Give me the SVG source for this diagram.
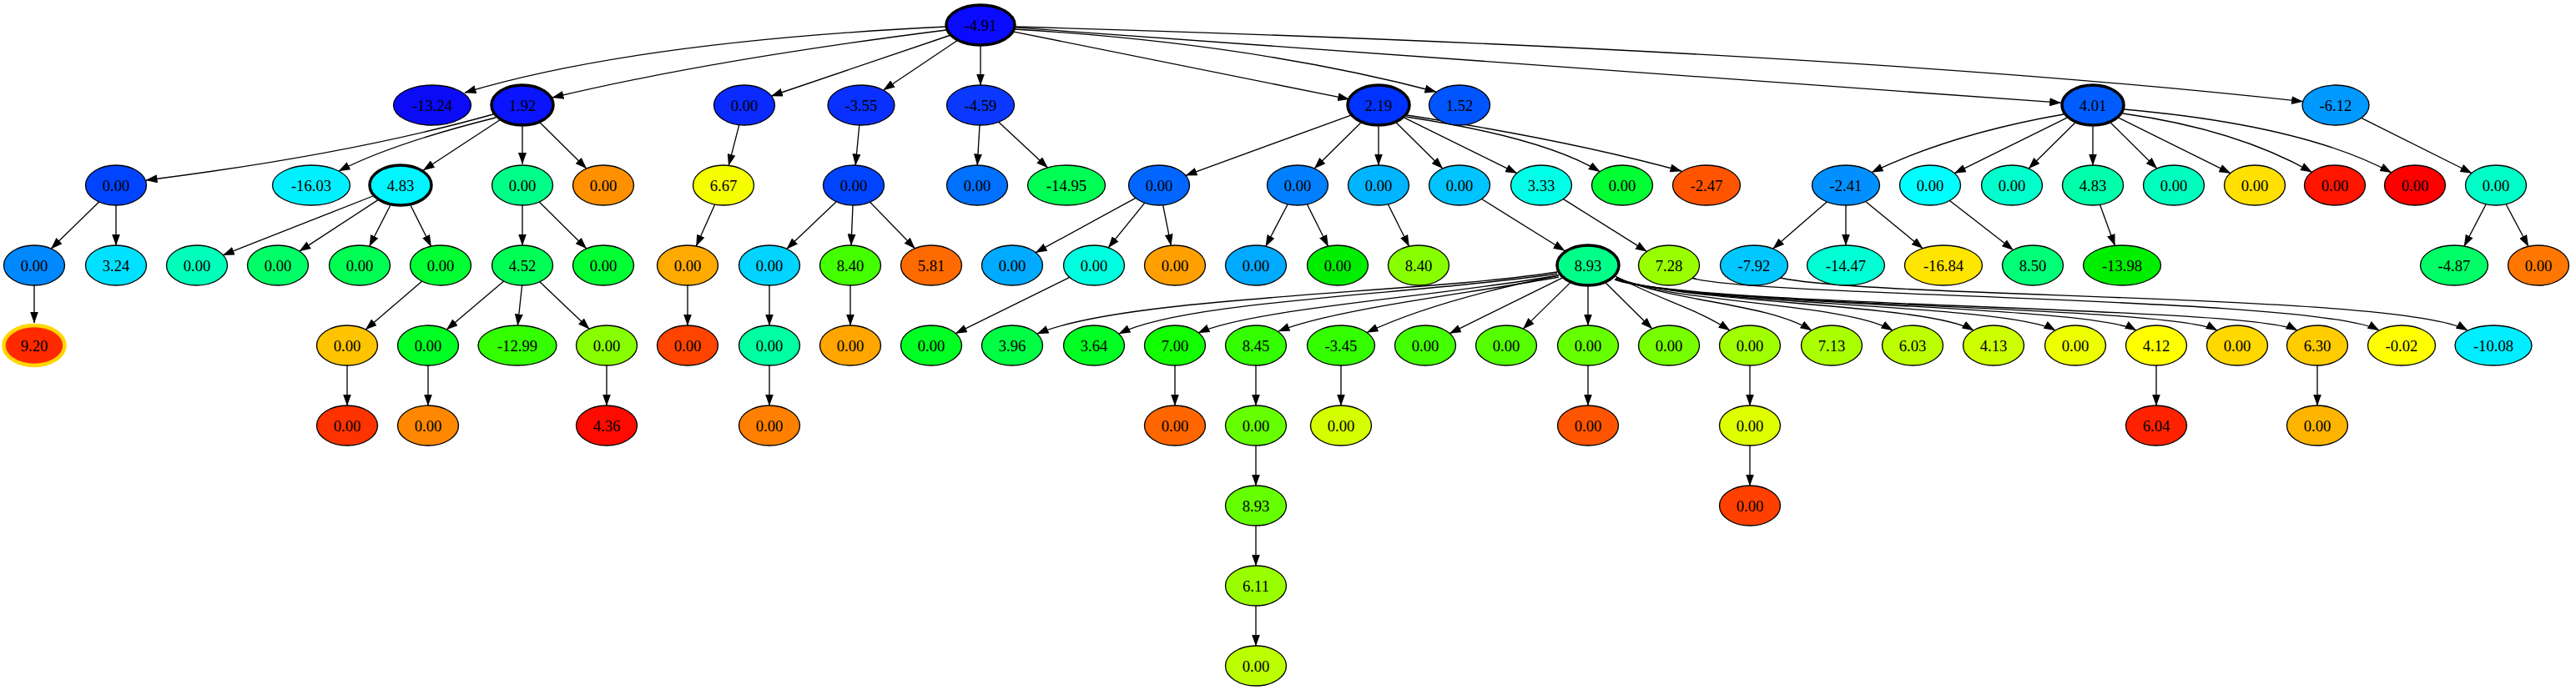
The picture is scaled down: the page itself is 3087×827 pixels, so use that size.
<svg xmlns="http://www.w3.org/2000/svg" width="3087" height="827" viewBox="0 0 3087 827">
<defs>
<marker id="ah" viewBox="0 0 14 10" markerWidth="14" markerHeight="10" refX="13.5" refY="5" orient="auto" markerUnits="userSpaceOnUse"><path d="M0,0 L14,5 L0,10 z" fill="#000"/></marker>
<style>
.n ellipse{stroke:#000;stroke-width:1.33}
.b ellipse{stroke-width:3.5}
text{font-family:"Liberation Serif","Times New Roman",serif;font-size:18.67px;text-anchor:middle;fill:#000}
#edges path{fill:none;stroke:#000;stroke-width:1.33;marker-end:url(#ah)}
</style>
</defs>
<rect width="3087" height="827" fill="#fff"/>
<g id="edges">
<path d="M1134,32 Q760,50 557,111"/>
<path d="M1134,36 Q850,72 662,117"/>
<path d="M1139.5,42 L924.4,115"/>
<path d="M1148,48 L1058.7,108"/>
<path d="M1175,54 L1175,102"/>
<path d="M1213.8,37.8 L1616.7,118.9"/>
<path d="M1215,35 Q1500,52 1721,110"/>
<path d="M1215.7,32.9 L2469.7,123.2"/>
<path d="M1216,32 Q2200,60 2759.6,121.7"/>
<path d="M591,137 Q420,185 175,216"/>
<path d="M594,141 Q470,172 406,205"/>
<path d="M598.7,144 L507.3,204"/>
<path d="M626,151.5 L626,196.5"/>
<path d="M647.4,147.2 L702.8,202"/>
<path d="M118.7,241.9 L61.3,298.1"/>
<path d="M139,246 L139,294"/>
<path d="M41,342 L41,387"/>
<path d="M446.9,235 L267.3,305.7"/>
<path d="M452.6,239.9 L358.9,301.1"/>
<path d="M467.7,246.2 L442.6,295.2"/>
<path d="M492.1,246.2 L516.6,295.2"/>
<path d="M505.8,337.1 L438.2,394.9"/>
<path d="M416,438 L416,486"/>
<path d="M626,246 L626,294"/>
<path d="M646.2,242 L702.8,298"/>
<path d="M603.7,337 L535.3,395"/>
<path d="M625.6,342 L620.4,390"/>
<path d="M646.8,337.7 L706.2,394.3"/>
<path d="M513,438 L513,486"/>
<path d="M727,438 L727,486"/>
<path d="M885.8,149.7 L873.2,198.3"/>
<path d="M856.7,245 L834.3,295"/>
<path d="M824,342 L824,390"/>
<path d="M1029.8,150 L1025.2,198"/>
<path d="M1002.2,241.7 L942.8,298.3"/>
<path d="M1022,246 L1020,294"/>
<path d="M1042.6,242.2 L1096.4,297.8"/>
<path d="M922,342 L922,390"/>
<path d="M922,438 L922,486"/>
<path d="M1019,342 L1019,390"/>
<path d="M1174,150 L1171.2,198"/>
<path d="M1196.7,146.3 L1255.5,201"/>
<path d="M1618.3,138.3 L1420.9,210.3"/>
<path d="M1630.6,147.2 L1575.2,202"/>
<path d="M1652,151.5 L1652,198"/>
<path d="M1673.4,147.2 L1728.8,202"/>
<path d="M1682.9,141.2 L1817.8,207.6"/>
<path d="M1685,140 Q1850,165 1917.2,205.7"/>
<path d="M1686,138 Q1880,168 2015,205"/>
<path d="M1360.9,237.3 L1241.1,302.7"/>
<path d="M1371.8,243.2 L1328.2,296.8"/>
<path d="M1393.7,245.8 L1403.3,294.2"/>
<path d="M1281.8,332.4 L1145.3,399.6"/>
<path d="M1543.2,244.7 L1516.8,295.3"/>
<path d="M1566.4,244.8 L1591.6,295.2"/>
<path d="M1663.4,244.8 L1688.6,295.2"/>
<path d="M1775.5,238.5 L1875,300.5"/>
<path d="M1873.5,238.6 L1973.5,301.4"/>
<path d="M1866,326 C1700,352 1350,355 1243,400"/>
<path d="M1866,328 C1700,353 1420,360 1341,400"/>
<path d="M1867,330 C1720,356 1500,370 1436,399"/>
<path d="M1868,332 C1760,352 1600,370 1532,397"/>
<path d="M1868,330 Q1720,360 1638,398.5"/>
<path d="M1872.1,333.2 L1737.3,399.6"/>
<path d="M1881.4,339.1 L1825.3,394.1"/>
<path d="M1903,343.5 L1903,390"/>
<path d="M1924.4,339.2 L1979.8,394"/>
<path d="M1936,331 C1990,360 2030,368 2073,396"/>
<path d="M1937,332 C2000,362 2115,362 2171,396"/>
<path d="M1937,333 C2000,363 2212,363 2268,396"/>
<path d="M1937,333 C2010,364 2309,363 2365,396"/>
<path d="M1936,334 C2010,365 2407,364 2463,396"/>
<path d="M1936,334 C2020,366 2504,365 2560,396"/>
<path d="M1935,335 C2020,367 2601,366 2657,396"/>
<path d="M1935,335 C2030,368 2697,367 2753,396"/>
<path d="M2027,333 C2100,356 2780,356 2851,396"/>
<path d="M2133,333 C2250,358 2880,352 2957,396"/>
<path d="M1408,438 L1408,486"/>
<path d="M1505,438 L1505,486"/>
<path d="M1505,534 L1505,582"/>
<path d="M1505,630 L1505,678"/>
<path d="M1505,726 L1505,774"/>
<path d="M1607,438 L1607,486"/>
<path d="M1903,438 L1903,486"/>
<path d="M2097,438 L2097,486"/>
<path d="M2097,534 L2097,582"/>
<path d="M2584,438 L2584,486"/>
<path d="M2777,438 L2777,486"/>
<path d="M2473,137 Q2340,160 2243,206.5"/>
<path d="M2477.1,141.2 L2342.3,207.6"/>
<path d="M2486.6,147.2 L2431.2,202"/>
<path d="M2508,151.5 L2508,198"/>
<path d="M2529.4,147.2 L2584.8,202"/>
<path d="M2538.8,141.2 L2672.9,207.6"/>
<path d="M2544,136 Q2680,155 2770.4,206.3"/>
<path d="M2545,131 Q2760,150 2865.7,206.8"/>
<path d="M2829.7,141.4 L2962,207.5"/>
<path d="M2979.2,244.7 L2953,295"/>
<path d="M3003.1,244.7 L3029.9,295.3"/>
<path d="M2189.3,241.9 L2124.7,298.1"/>
<path d="M2212,246 L2212,294"/>
<path d="M2235.7,241.5 L2304.2,297.7"/>
<path d="M2336.5,240.4 L2412.5,299.6"/>
<path d="M2516.5,245.3 L2534.4,294.4"/>
</g>
<g id="n0" class="n b"><ellipse cx="1175" cy="30" rx="41" ry="24" fill="#0A0AFF"/><text x="1175" y="36.5">-4.91</text></g>
<g id="n1" class="n"><ellipse cx="518" cy="126" rx="46.5" ry="24" fill="#0B0BF5"/><text x="518" y="132.5">-13.24</text></g>
<g id="n2" class="n b"><ellipse cx="626" cy="126" rx="37" ry="24" fill="#0A14FF"/><text x="626" y="132.5">1.92</text></g>
<g id="n3" class="n"><ellipse cx="892" cy="126" rx="36.5" ry="24" fill="#0A2AFF"/><text x="892" y="132.5">0.00</text></g>
<g id="n4" class="n"><ellipse cx="1032" cy="126" rx="40" ry="24" fill="#0A30FF"/><text x="1032" y="132.5">-3.55</text></g>
<g id="n5" class="n"><ellipse cx="1175" cy="126" rx="40.5" ry="24" fill="#0A38FF"/><text x="1175" y="132.5">-4.59</text></g>
<g id="n6" class="n b"><ellipse cx="1652" cy="126" rx="37" ry="24" fill="#0033FF"/><text x="1652" y="132.5">2.19</text></g>
<g id="n7" class="n"><ellipse cx="1749" cy="126" rx="36.5" ry="24" fill="#0055FF"/><text x="1749" y="132.5">1.52</text></g>
<g id="n8" class="n b"><ellipse cx="2508" cy="126" rx="37" ry="24" fill="#005CFF"/><text x="2508" y="132.5">4.01</text></g>
<g id="n9" class="n"><ellipse cx="2799" cy="126" rx="40" ry="24" fill="#0099FF"/><text x="2799" y="132.5">-6.12</text></g>
<g id="n10" class="n"><ellipse cx="139" cy="222" rx="36.5" ry="24" fill="#0044FF"/><text x="139" y="228.5">0.00</text></g>
<g id="n11" class="n"><ellipse cx="373" cy="222" rx="46.5" ry="24" fill="#00F0FF"/><text x="373" y="228.5">-16.03</text></g>
<g id="n12" class="n b"><ellipse cx="480" cy="222" rx="37" ry="24" fill="#00F5FF"/><text x="480" y="228.5">4.83</text></g>
<g id="n13" class="n"><ellipse cx="626" cy="222" rx="36.5" ry="24" fill="#00FF88"/><text x="626" y="228.5">0.00</text></g>
<g id="n14" class="n"><ellipse cx="723" cy="222" rx="36.5" ry="24" fill="#FF9000"/><text x="723" y="228.5">0.00</text></g>
<g id="n15" class="n"><ellipse cx="867" cy="222" rx="36.5" ry="24" fill="#F5FF00"/><text x="867" y="228.5">6.67</text></g>
<g id="n16" class="n"><ellipse cx="1023" cy="222" rx="36.5" ry="24" fill="#0044FF"/><text x="1023" y="228.5">0.00</text></g>
<g id="n17" class="n"><ellipse cx="1171" cy="222" rx="36.5" ry="24" fill="#0070FF"/><text x="1171" y="228.5">0.00</text></g>
<g id="n18" class="n"><ellipse cx="1278" cy="222" rx="46.5" ry="24" fill="#00FF55"/><text x="1278" y="228.5">-14.95</text></g>
<g id="n19" class="n"><ellipse cx="1389" cy="222" rx="36.5" ry="24" fill="#0066FF"/><text x="1389" y="228.5">0.00</text></g>
<g id="n20" class="n"><ellipse cx="1555" cy="222" rx="36.5" ry="24" fill="#0080FF"/><text x="1555" y="228.5">0.00</text></g>
<g id="n21" class="n"><ellipse cx="1652" cy="222" rx="36.5" ry="24" fill="#00B4FF"/><text x="1652" y="228.5">0.00</text></g>
<g id="n22" class="n"><ellipse cx="1749" cy="222" rx="36.5" ry="24" fill="#00C4FF"/><text x="1749" y="228.5">0.00</text></g>
<g id="n23" class="n"><ellipse cx="1847" cy="222" rx="36.5" ry="24" fill="#00FFE6"/><text x="1847" y="228.5">3.33</text></g>
<g id="n24" class="n"><ellipse cx="1944" cy="222" rx="36.5" ry="24" fill="#00FF33"/><text x="1944" y="228.5">0.00</text></g>
<g id="n25" class="n"><ellipse cx="2045" cy="222" rx="40.5" ry="24" fill="#FF5500"/><text x="2045" y="228.5">-2.47</text></g>
<g id="n26" class="n"><ellipse cx="2212" cy="222" rx="40.5" ry="24" fill="#0090FF"/><text x="2212" y="228.5">-2.41</text></g>
<g id="n27" class="n"><ellipse cx="2313" cy="222" rx="36.5" ry="24" fill="#00FFFF"/><text x="2313" y="228.5">0.00</text></g>
<g id="n28" class="n"><ellipse cx="2411" cy="222" rx="36.5" ry="24" fill="#00FFCC"/><text x="2411" y="228.5">0.00</text></g>
<g id="n29" class="n"><ellipse cx="2508" cy="222" rx="36.5" ry="24" fill="#00FFAA"/><text x="2508" y="228.5">4.83</text></g>
<g id="n30" class="n"><ellipse cx="2605" cy="222" rx="36.5" ry="24" fill="#00FFBF"/><text x="2605" y="228.5">0.00</text></g>
<g id="n31" class="n"><ellipse cx="2702" cy="222" rx="36.5" ry="24" fill="#FFE000"/><text x="2702" y="228.5">0.00</text></g>
<g id="n32" class="n"><ellipse cx="2798" cy="222" rx="36.5" ry="24" fill="#FF1500"/><text x="2798" y="228.5">0.00</text></g>
<g id="n33" class="n"><ellipse cx="2894" cy="222" rx="36.5" ry="24" fill="#FF0000"/><text x="2894" y="228.5">0.00</text></g>
<g id="n34" class="n"><ellipse cx="2991" cy="222" rx="36.5" ry="24" fill="#00FFC8"/><text x="2991" y="228.5">0.00</text></g>
<g id="n35" class="n"><ellipse cx="41" cy="318" rx="36.5" ry="24" fill="#0088FF"/><text x="41" y="324.5">0.00</text></g>
<g id="n36" class="n"><ellipse cx="139" cy="318" rx="36.5" ry="24" fill="#00E1FF"/><text x="139" y="324.5">3.24</text></g>
<g id="n37" class="n"><ellipse cx="236" cy="318" rx="36.5" ry="24" fill="#00FFBB"/><text x="236" y="324.5">0.00</text></g>
<g id="n38" class="n"><ellipse cx="333" cy="318" rx="36.5" ry="24" fill="#00FF66"/><text x="333" y="324.5">0.00</text></g>
<g id="n39" class="n"><ellipse cx="431" cy="318" rx="36.5" ry="24" fill="#00FF55"/><text x="431" y="324.5">0.00</text></g>
<g id="n40" class="n"><ellipse cx="528" cy="318" rx="36.5" ry="24" fill="#00FF33"/><text x="528" y="324.5">0.00</text></g>
<g id="n41" class="n"><ellipse cx="626" cy="318" rx="36.5" ry="24" fill="#00FF55"/><text x="626" y="324.5">4.52</text></g>
<g id="n42" class="n"><ellipse cx="723" cy="318" rx="36.5" ry="24" fill="#00FF33"/><text x="723" y="324.5">0.00</text></g>
<g id="n43" class="n"><ellipse cx="824" cy="318" rx="36.5" ry="24" fill="#FFAA00"/><text x="824" y="324.5">0.00</text></g>
<g id="n44" class="n"><ellipse cx="922" cy="318" rx="36.5" ry="24" fill="#00D4FF"/><text x="922" y="324.5">0.00</text></g>
<g id="n45" class="n"><ellipse cx="1019" cy="318" rx="36.5" ry="24" fill="#44FF00"/><text x="1019" y="324.5">8.40</text></g>
<g id="n46" class="n"><ellipse cx="1116" cy="318" rx="36.5" ry="24" fill="#FF6A00"/><text x="1116" y="324.5">5.81</text></g>
<g id="n47" class="n"><ellipse cx="1213" cy="318" rx="36.5" ry="24" fill="#00AAFF"/><text x="1213" y="324.5">0.00</text></g>
<g id="n48" class="n"><ellipse cx="1311" cy="318" rx="36.5" ry="24" fill="#00FFE0"/><text x="1311" y="324.5">0.00</text></g>
<g id="n49" class="n"><ellipse cx="1408" cy="318" rx="36.5" ry="24" fill="#FFA000"/><text x="1408" y="324.5">0.00</text></g>
<g id="n50" class="n"><ellipse cx="1505" cy="318" rx="36.5" ry="24" fill="#00AAFF"/><text x="1505" y="324.5">0.00</text></g>
<g id="n51" class="n"><ellipse cx="1603" cy="318" rx="36.5" ry="24" fill="#00EE00"/><text x="1603" y="324.5">0.00</text></g>
<g id="n52" class="n"><ellipse cx="1700" cy="318" rx="36.5" ry="24" fill="#88FF00"/><text x="1700" y="324.5">8.40</text></g>
<g id="n53" class="n b"><ellipse cx="1903" cy="318" rx="37" ry="24" fill="#00FF88"/><text x="1903" y="324.5">8.93</text></g>
<g id="n54" class="n"><ellipse cx="2000" cy="318" rx="36.5" ry="24" fill="#99FF00"/><text x="2000" y="324.5">7.28</text></g>
<g id="n55" class="n"><ellipse cx="2102" cy="318" rx="40.5" ry="24" fill="#00C8FF"/><text x="2102" y="324.5">-7.92</text></g>
<g id="n56" class="n"><ellipse cx="2212" cy="318" rx="46.5" ry="24" fill="#00FFD5"/><text x="2212" y="324.5">-14.47</text></g>
<g id="n57" class="n"><ellipse cx="2329" cy="318" rx="46.5" ry="24" fill="#FFE600"/><text x="2329" y="324.5">-16.84</text></g>
<g id="n58" class="n"><ellipse cx="2436" cy="318" rx="36.5" ry="24" fill="#00FF77"/><text x="2436" y="324.5">8.50</text></g>
<g id="n59" class="n"><ellipse cx="2543" cy="318" rx="46.5" ry="24" fill="#00EE00"/><text x="2543" y="324.5">-13.98</text></g>
<g id="n60" class="n"><ellipse cx="2941" cy="318" rx="40.5" ry="24" fill="#00FF66"/><text x="2941" y="324.5">-4.87</text></g>
<g id="n61" class="n"><ellipse cx="3042" cy="318" rx="36.5" ry="24" fill="#FF7700"/><text x="3042" y="324.5">0.00</text></g>
<g id="n62" class="n"><ellipse cx="41" cy="414" rx="36.5" ry="24" fill="#FF2A00" style="stroke:#FFD700;stroke-width:4.5"/><text x="41" y="420.5">9.20</text></g>
<g id="n63" class="n"><ellipse cx="416" cy="414" rx="36.5" ry="24" fill="#FFC400"/><text x="416" y="420.5">0.00</text></g>
<g id="n64" class="n"><ellipse cx="513" cy="414" rx="36.5" ry="24" fill="#00FF22"/><text x="513" y="420.5">0.00</text></g>
<g id="n65" class="n"><ellipse cx="620" cy="414" rx="47" ry="24" fill="#33FF00"/><text x="620" y="420.5">-12.99</text></g>
<g id="n66" class="n"><ellipse cx="727" cy="414" rx="36.5" ry="24" fill="#88FF00"/><text x="727" y="420.5">0.00</text></g>
<g id="n67" class="n"><ellipse cx="824" cy="414" rx="36.5" ry="24" fill="#FF4400"/><text x="824" y="420.5">0.00</text></g>
<g id="n68" class="n"><ellipse cx="922" cy="414" rx="36.5" ry="24" fill="#00FFA0"/><text x="922" y="420.5">0.00</text></g>
<g id="n69" class="n"><ellipse cx="1019" cy="414" rx="36.5" ry="24" fill="#FFA500"/><text x="1019" y="420.5">0.00</text></g>
<g id="n70" class="n"><ellipse cx="1116" cy="414" rx="36.5" ry="24" fill="#00FF22"/><text x="1116" y="420.5">0.00</text></g>
<g id="n71" class="n"><ellipse cx="1213" cy="414" rx="36.5" ry="24" fill="#00FF44"/><text x="1213" y="420.5">3.96</text></g>
<g id="n72" class="n"><ellipse cx="1311" cy="414" rx="36.5" ry="24" fill="#00FF22"/><text x="1311" y="420.5">3.64</text></g>
<g id="n73" class="n"><ellipse cx="1408" cy="414" rx="36.5" ry="24" fill="#11FF00"/><text x="1408" y="420.5">7.00</text></g>
<g id="n74" class="n"><ellipse cx="1505" cy="414" rx="36.5" ry="24" fill="#33FF00"/><text x="1505" y="420.5">8.45</text></g>
<g id="n75" class="n"><ellipse cx="1607" cy="414" rx="40.5" ry="24" fill="#33FF00"/><text x="1607" y="420.5">-3.45</text></g>
<g id="n76" class="n"><ellipse cx="1708" cy="414" rx="36.5" ry="24" fill="#44FF00"/><text x="1708" y="420.5">0.00</text></g>
<g id="n77" class="n"><ellipse cx="1805" cy="414" rx="36.5" ry="24" fill="#55FF00"/><text x="1805" y="420.5">0.00</text></g>
<g id="n78" class="n"><ellipse cx="1903" cy="414" rx="36.5" ry="24" fill="#66FF00"/><text x="1903" y="420.5">0.00</text></g>
<g id="n79" class="n"><ellipse cx="2000" cy="414" rx="36.5" ry="24" fill="#77FF00"/><text x="2000" y="420.5">0.00</text></g>
<g id="n80" class="n"><ellipse cx="2097" cy="414" rx="36.5" ry="24" fill="#A0FF00"/><text x="2097" y="420.5">0.00</text></g>
<g id="n81" class="n"><ellipse cx="2195" cy="414" rx="36.5" ry="24" fill="#AAFF00"/><text x="2195" y="420.5">7.13</text></g>
<g id="n82" class="n"><ellipse cx="2292" cy="414" rx="36.5" ry="24" fill="#BBFF00"/><text x="2292" y="420.5">6.03</text></g>
<g id="n83" class="n"><ellipse cx="2389" cy="414" rx="36.5" ry="24" fill="#CCFF00"/><text x="2389" y="420.5">4.13</text></g>
<g id="n84" class="n"><ellipse cx="2487" cy="414" rx="36.5" ry="24" fill="#EEFF00"/><text x="2487" y="420.5">0.00</text></g>
<g id="n85" class="n"><ellipse cx="2584" cy="414" rx="36.5" ry="24" fill="#FFFF00"/><text x="2584" y="420.5">4.12</text></g>
<g id="n86" class="n"><ellipse cx="2681" cy="414" rx="36.5" ry="24" fill="#FFD800"/><text x="2681" y="420.5">0.00</text></g>
<g id="n87" class="n"><ellipse cx="2777" cy="414" rx="36.5" ry="24" fill="#FFCC00"/><text x="2777" y="420.5">6.30</text></g>
<g id="n88" class="n"><ellipse cx="2878" cy="414" rx="40.5" ry="24" fill="#FFFF00"/><text x="2878" y="420.5">-0.02</text></g>
<g id="n89" class="n"><ellipse cx="2988" cy="414" rx="46" ry="24" fill="#00EEFF"/><text x="2988" y="420.5">-10.08</text></g>
<g id="n90" class="n"><ellipse cx="416" cy="510" rx="36.5" ry="24" fill="#FF3300"/><text x="416" y="516.5">0.00</text></g>
<g id="n91" class="n"><ellipse cx="513" cy="510" rx="36.5" ry="24" fill="#FF8800"/><text x="513" y="516.5">0.00</text></g>
<g id="n92" class="n"><ellipse cx="727" cy="510" rx="36.5" ry="24" fill="#FF0A00"/><text x="727" y="516.5">4.36</text></g>
<g id="n93" class="n"><ellipse cx="922" cy="510" rx="36.5" ry="24" fill="#FF8000"/><text x="922" y="516.5">0.00</text></g>
<g id="n94" class="n"><ellipse cx="1408" cy="510" rx="36.5" ry="24" fill="#FF6600"/><text x="1408" y="516.5">0.00</text></g>
<g id="n95" class="n"><ellipse cx="1505" cy="510" rx="36.5" ry="24" fill="#66FF00"/><text x="1505" y="516.5">0.00</text></g>
<g id="n96" class="n"><ellipse cx="1607" cy="510" rx="36.5" ry="24" fill="#D4FF00"/><text x="1607" y="516.5">0.00</text></g>
<g id="n97" class="n"><ellipse cx="1903" cy="510" rx="36.5" ry="24" fill="#FF5500"/><text x="1903" y="516.5">0.00</text></g>
<g id="n98" class="n"><ellipse cx="2097" cy="510" rx="36.5" ry="24" fill="#DDFF00"/><text x="2097" y="516.5">0.00</text></g>
<g id="n99" class="n"><ellipse cx="2584" cy="510" rx="36.5" ry="24" fill="#FF2200"/><text x="2584" y="516.5">6.04</text></g>
<g id="n100" class="n"><ellipse cx="2777" cy="510" rx="36.5" ry="24" fill="#FFB400"/><text x="2777" y="516.5">0.00</text></g>
<g id="n101" class="n"><ellipse cx="1505" cy="606" rx="36.5" ry="24" fill="#66FF00"/><text x="1505" y="612.5">8.93</text></g>
<g id="n102" class="n"><ellipse cx="2097" cy="606" rx="36.5" ry="24" fill="#FF4000"/><text x="2097" y="612.5">0.00</text></g>
<g id="n103" class="n"><ellipse cx="1505" cy="702" rx="36.5" ry="24" fill="#99FF00"/><text x="1505" y="708.5">6.11</text></g>
<g id="n104" class="n"><ellipse cx="1505" cy="798" rx="36.5" ry="24" fill="#BBFF00"/><text x="1505" y="804.5">0.00</text></g>
</svg>
